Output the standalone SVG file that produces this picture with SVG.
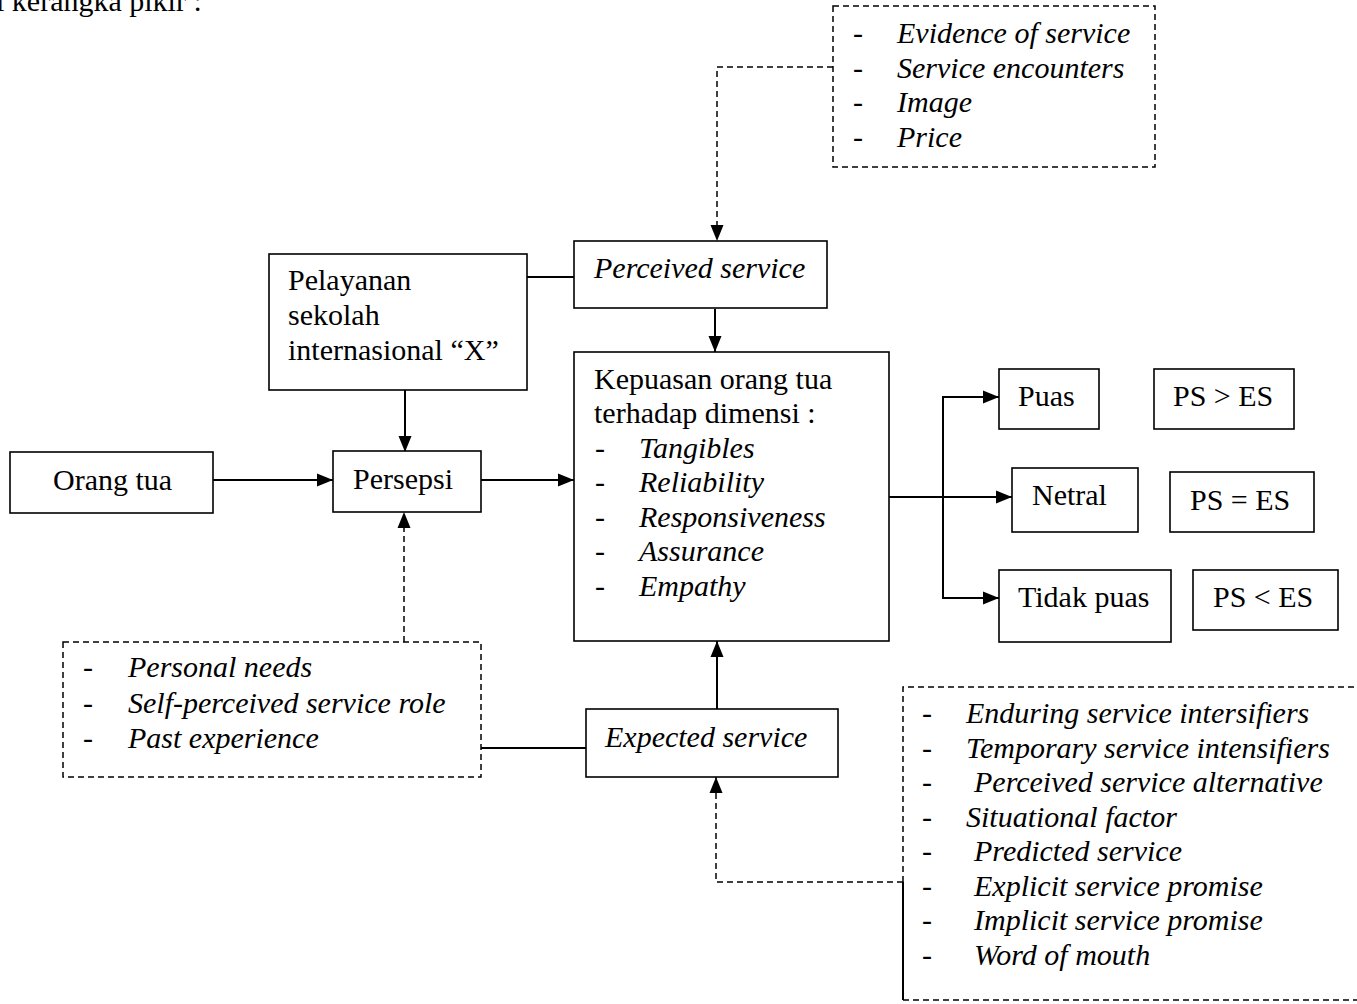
<svg xmlns="http://www.w3.org/2000/svg" width="1357" height="1004" viewBox="0 0 1357 1004">
<style>
text{font-family:"Liberation Serif","Times New Roman",serif;font-size:30px;fill:#000}
.it{font-style:italic}
.box{fill:#fff;stroke:#000;stroke-width:1.6}
.dbox{fill:none;stroke:#000;stroke-width:1.5;stroke-dasharray:6,4}
.ln{fill:none;stroke:#000;stroke-width:2}
.dl{fill:none;stroke:#000;stroke-width:1.5;stroke-dasharray:6,4}
</style>
<defs>
<marker id="ah" markerUnits="userSpaceOnUse" markerWidth="16" markerHeight="14" refX="16" refY="7" orient="auto"><path d="M0,0.5 L16,7 L0,13.5 z" fill="#000"/></marker>
</defs>
<rect width="1357" height="1004" fill="#fff"/>
<text x="-4" y="11">i kerangka pikir :</text>

<g id="connectors">
<path class="dl" d="M833,67 H717 V241" marker-end="url(#ah)"/>
<path class="ln" d="M527,277 H574"/>
<path class="ln" d="M715,309 V352" marker-end="url(#ah)"/>
<path class="ln" d="M405,390 V452" marker-end="url(#ah)"/>
<path class="ln" d="M213,480 H333" marker-end="url(#ah)"/>
<path class="ln" d="M481,480 H574" marker-end="url(#ah)"/>
<path class="dl" d="M404,642 V512" marker-end="url(#ah)"/>
<path class="ln" d="M481,748 H586"/>
<path class="ln" d="M717,709 V641" marker-end="url(#ah)"/>
<path class="dl" d="M903,882 H716 V777" marker-end="url(#ah)"/>
<path class="ln" d="M889,497 H1012" marker-end="url(#ah)"/>
<path class="ln" d="M999,397 H943 V598 H999" marker-end="url(#ah)"/>
<path class="ln" d="M943,397 H999" marker-end="url(#ah)"/>
</g>

<g id="factors-perceived">
<rect class="dbox" x="833" y="6" width="322" height="161"/>
<text x="853" y="43">-</text><text class="it" x="897" y="43">Evidence of service</text>
<text x="853" y="77.5">-</text><text class="it" x="897" y="77.5">Service encounters</text>
<text x="853" y="112">-</text><text class="it" x="897" y="112">Image</text>
<text x="853" y="146.5">-</text><text class="it" x="897" y="146.5">Price</text>
</g>

<g id="perceived-service">
<rect class="box" x="574" y="241" width="253" height="67"/>
<text class="it" x="594" y="278">Perceived service</text>
</g>

<g id="pelayanan">
<rect class="box" x="269" y="254" width="258" height="136"/>
<text x="288" y="290">Pelayanan</text>
<text x="288" y="325">sekolah</text>
<text x="288" y="360">internasional “X”</text>
</g>

<g id="orang-tua">
<rect class="box" x="10" y="452" width="203" height="61"/>
<text x="53" y="490">Orang tua</text>
</g>

<g id="persepsi">
<rect class="box" x="333" y="451" width="148" height="61"/>
<text x="353" y="489">Persepsi</text>
</g>

<g id="kepuasan">
<rect class="box" x="574" y="352" width="315" height="289"/>
<text x="594" y="388.5">Kepuasan orang tua</text>
<text x="594" y="423">terhadap dimensi :</text>
<text x="595" y="457.5">-</text><text class="it" x="639" y="457.5">Tangibles</text>
<text x="595" y="492">-</text><text class="it" x="639" y="492">Reliability</text>
<text x="595" y="526.5">-</text><text class="it" x="639" y="526.5">Responsiveness</text>
<text x="595" y="561">-</text><text class="it" x="639" y="561">Assurance</text>
<text x="595" y="595.5">-</text><text class="it" x="639" y="595.5">Empathy</text>
</g>

<g id="puas">
<rect class="box" x="999" y="369" width="100" height="60"/>
<text x="1018" y="406">Puas</text>
</g>
<g id="ps-gt">
<rect class="box" x="1154" y="369" width="140" height="60"/>
<text x="1173" y="406">PS &gt; ES</text>
</g>
<g id="netral">
<rect class="box" x="1012" y="468" width="126" height="64"/>
<text x="1032" y="505">Netral</text>
</g>
<g id="ps-eq">
<rect class="box" x="1170" y="472" width="144" height="60"/>
<text x="1190" y="510">PS = ES</text>
</g>
<g id="tidak-puas">
<rect class="box" x="999" y="570" width="172" height="72"/>
<text x="1018" y="607">Tidak puas</text>
</g>
<g id="ps-lt">
<rect class="box" x="1193" y="570" width="145" height="60"/>
<text x="1213" y="607">PS &lt; ES</text>
</g>

<g id="factors-persepsi">
<rect class="dbox" x="63" y="642" width="418" height="135"/>
<text x="83" y="677">-</text><text class="it" x="128" y="677">Personal needs</text>
<text x="83" y="712.5">-</text><text class="it" x="128" y="712.5">Self-perceived service role</text>
<text x="83" y="748">-</text><text class="it" x="128" y="748">Past experience</text>
</g>

<g id="expected-service">
<rect class="box" x="586" y="709" width="252" height="68"/>
<text class="it" x="605" y="747">Expected service</text>
</g>

<g id="factors-expected">
<path class="dl" d="M903,882 V687 H1360"/>
<path class="dl" d="M903,1000 H1360"/>
<path class="ln" stroke-width="1.5" d="M903,882 V1000"/>
<text x="922" y="723">-</text><text class="it" x="966" y="723">Enduring service intersifiers</text>
<text x="922" y="757.5">-</text><text class="it" x="966" y="757.5">Temporary service intensifiers</text>
<text x="922" y="792">-</text><text class="it" x="974" y="792">Perceived service alternative</text>
<text x="922" y="826.5">-</text><text class="it" x="966" y="826.5">Situational factor</text>
<text x="922" y="861">-</text><text class="it" x="974" y="861">Predicted service</text>
<text x="922" y="895.5">-</text><text class="it" x="974" y="895.5">Explicit service promise</text>
<text x="922" y="930">-</text><text class="it" x="974" y="930">Implicit service promise</text>
<text x="922" y="964.5">-</text><text class="it" x="974" y="964.5">Word of mouth</text>
</g>
</svg>
